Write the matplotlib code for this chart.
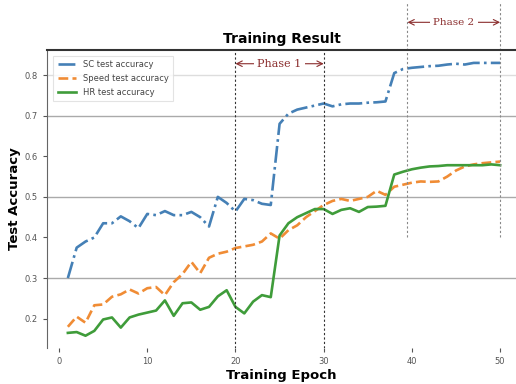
import numpy as np
import matplotlib
matplotlib.use("Agg")
import matplotlib.pyplot as plt

# test accuracy per training epoch
epochs = np.arange(1, 51)
sc_acc = [0.300, 0.375, 0.390, 0.400, 0.435, 0.435, 0.452, 0.440, 0.423, 0.458,
          0.455, 0.465, 0.455, 0.455, 0.463, 0.450, 0.427, 0.500, 0.485, 0.464,
          0.495, 0.492, 0.483, 0.480, 0.680, 0.705, 0.715, 0.720, 0.725, 0.730,
          0.723, 0.728, 0.730, 0.730, 0.732, 0.733, 0.735, 0.805, 0.815, 0.818,
          0.820, 0.822, 0.823, 0.826, 0.828, 0.826, 0.830, 0.830, 0.830, 0.830]
speed_acc = [0.180, 0.205, 0.190, 0.233, 0.235, 0.254, 0.260, 0.272, 0.262, 0.275,
             0.278, 0.258, 0.290, 0.310, 0.340, 0.312, 0.350, 0.360, 0.365, 0.374,
             0.378, 0.382, 0.390, 0.410, 0.397, 0.418, 0.430, 0.450, 0.465, 0.480,
             0.490, 0.495, 0.490, 0.495, 0.500, 0.515, 0.505, 0.525, 0.530, 0.535,
             0.538, 0.537, 0.538, 0.550, 0.565, 0.575, 0.580, 0.583, 0.585, 0.587]
hr_acc = [0.165, 0.167, 0.158, 0.170, 0.198, 0.203, 0.178, 0.203, 0.210, 0.215,
          0.220, 0.245, 0.207, 0.238, 0.240, 0.222, 0.229, 0.255, 0.270, 0.229,
          0.213, 0.242, 0.258, 0.253, 0.405, 0.435, 0.450, 0.460, 0.470, 0.470,
          0.458, 0.468, 0.472, 0.463, 0.475, 0.476, 0.478, 0.555, 0.562, 0.568,
          0.572, 0.575, 0.576, 0.578, 0.578, 0.578, 0.578, 0.578, 0.580, 0.578]
labels = ["SC test accuracy", "Speed test accuracy", "HR test accuracy"]

phase1 = (20, 30)
phase2 = (39.5, 50)

fig = plt.figure(figsize=(5.16, 3.84), dpi=100)
ax = fig.add_axes([0.091, 0.094, 0.909, 0.776])

ax.plot(epochs, sc_acc, '-.', color='#4580b6', lw=1.9, label=labels[0])
ax.plot(epochs, speed_acc, '--', color='#f08c35', lw=1.9, label=labels[1])
ax.plot(epochs, hr_acc, '-', color='#3f9c3a', lw=1.9, label=labels[2])

ax.set_xlim(-1.37, 51.8)
ax.set_ylim(0.128, 0.862)
ax.set_xticks([0, 10, 20, 30, 40, 50])
ax.set_yticks([0.2, 0.3, 0.4, 0.5, 0.6, 0.7, 0.8])
ax.set_yticklabels(['0.2', '0.3', '0.4', '0.5', '0.6', '0.7', '0.8'])
ax.tick_params(labelsize=6, labelcolor='#555555', colors='#555555', length=3, width=0.8)

# horizontal grid: stronger on 0.3/0.5/0.7, faint on 0.8
ax.set_axisbelow(True)
for y, c in [(0.3, '#aaaaaa'), (0.5, '#aaaaaa'), (0.7, '#aaaaaa'), (0.8, '#dddddd')]:
    ax.axhline(y, color=c, lw=1, zorder=0)

ax.spines['right'].set_visible(False)
ax.spines['bottom'].set_visible(False)
ax.spines['top'].set_linewidth(1.5)
ax.spines['top'].set_color('#333333')
ax.spines['left'].set_color('#666666')

ax.set_title('Training Result', fontsize=10, fontweight='bold', pad=5)
ax.set_xlabel('Training Epoch', fontsize=9.5, fontweight='bold', labelpad=2)
ax.set_ylabel('Test Accuracy', fontsize=9.5, fontweight='bold', labelpad=3)

leg = ax.legend(loc='upper left', fontsize=6, frameon=True, handlelength=2.2,
                borderpad=0.5, labelspacing=0.6, fancybox=False,
                bbox_to_anchor=(0.005, 0.995))
leg.get_frame().set_edgecolor('#dddddd')
leg.get_frame().set_linewidth(0.8)
for t in leg.get_texts():
    t.set_color('#444444')

# phase markers
arrow_col = '#8b2e2e'
for x in phase1:
    ax.axvline(x, color='#333333', ls='--', lw=0.8, dashes=(2, 2))
for x in phase2:
    ax.plot([x, x], [0.40, 0.98], color='#888888', ls='--', lw=0.8,
            dashes=(2, 2), clip_on=False)

ax.annotate('', xy=(phase1[0], 0.828), xytext=(phase1[1], 0.828),
            arrowprops=dict(arrowstyle='<->', color=arrow_col, lw=0.8,
                            shrinkA=0, shrinkB=0))
ax.text(sum(phase1) / 2, 0.828, 'Phase 1', ha='center', va='center', fontsize=8,
        family='DejaVu Serif', color=arrow_col,
        bbox=dict(facecolor='white', edgecolor='none', pad=2.5))

ax.annotate('', xy=(phase2[0], 0.93), xytext=(phase2[1], 0.93),
            arrowprops=dict(arrowstyle='<->', color=arrow_col, lw=0.8,
                            shrinkA=0, shrinkB=0), annotation_clip=False)
ax.text(sum(phase2) / 2, 0.93, 'Phase 2', ha='center', va='center', fontsize=7.5,
        family='DejaVu Serif', color=arrow_col, clip_on=False,
        bbox=dict(facecolor='white', edgecolor='none', pad=2.5))

fig.savefig('out.png', dpi=100)
